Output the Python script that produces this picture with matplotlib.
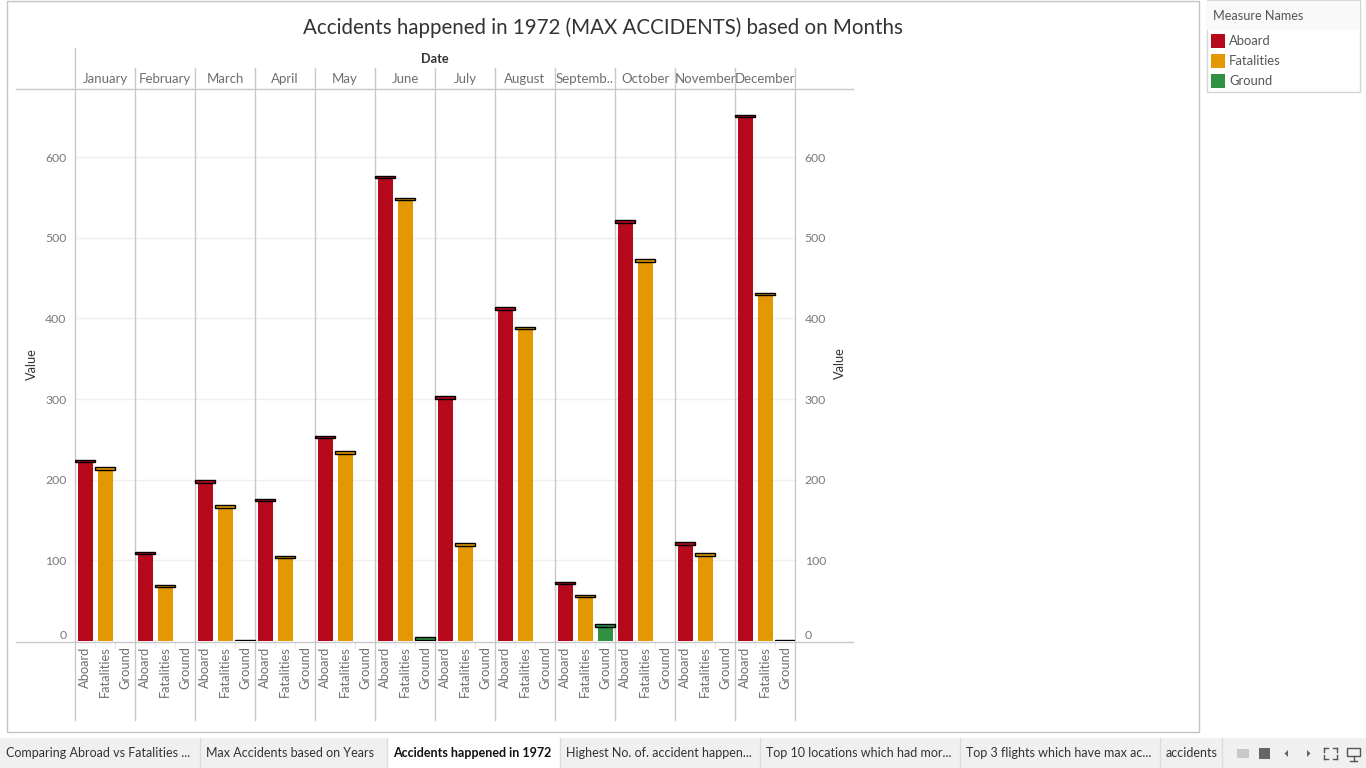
import numpy as np
import matplotlib
matplotlib.use("Agg")
import matplotlib.pyplot as plt
import matplotlib.transforms as mtransforms
from matplotlib.patches import Rectangle, Polygon
from matplotlib.lines import Line2D

# ---------------- data ----------------
months = ["January", "February", "March", "April", "May", "June",
          "July", "August", "September", "October", "November", "December"]
month_headers = ["January", "February", "March", "April", "May", "June",
                 "July", "August", "Septemb..", "October", "November", "December"]
measures = ["Aboard", "Fatalities", "Ground"]
aboard = [223, 109, 198, 175, 253, 575, 302, 412, 72, 520, 121, 651]
fatalities = [214, 68, 167, 104, 234, 548, 120, 388, 56, 472, 107, 430]
ground = [np.nan, np.nan, 0, np.nan, np.nan, 3, np.nan, np.nan, 19, np.nan, np.nan, 0]
y_ticks = [0, 100, 200, 300, 400, 500, 600]
title = "Accidents happened in 1972 (MAX ACCIDENTS) based on Months"
tab_names = ["Comparing Abroad vs Fatalities ...", "Max Accidents based on Years",
             "Accidents happened in 1972", "Highest No. of. accident happen...",
             "Top 10 locations which had mor...", "Top 3 flights which have max ac...",
             "accidents"]

# ---------------- style ----------------
colors = {"Aboard": "#b60a1c", "Fatalities": "#e39802", "Ground": "#309143"}
FONT = ["Lato", "DejaVu Sans"]
plt.rcParams["font.family"] = FONT
GRID = "#c8c8c8"

W, H = 1366, 768
fig = plt.figure(figsize=(W / 100, H / 100), dpi=100)


def fx(x):
    return x / W


def fy(y):
    return 1 - y / H


def fline(x0, y0, x1, y1, color=GRID, lw=1.0):
    fig.add_artist(Line2D([fx(x0), fx(x1)], [fy(y0), fy(y1)],
                          transform=fig.transFigure, color=color, lw=lw))


# outer worksheet frame
fig.add_artist(Rectangle((fx(6.5), fy(731.5)), (1199 - 6.5) / W, (731.5 - 0.5) / H,
                         transform=fig.transFigure, fill=False, edgecolor="#c4c4c4", lw=1))

# plot area geometry
X0, X1, YB, YT = 75, 795, 641, 88
ppu = (641 - 157) / 600.0
ymax = (YB - YT) / ppu
ax = fig.add_axes([fx(X0), fy(YB), (X1 - X0) / W, (YB - YT) / H])
ax.set_xlim(-0.5, 3 * len(months) - 0.5)
ax.set_ylim(0, ymax)
for s in ax.spines.values():
    s.set_visible(False)

series = {"Aboard": aboard, "Fatalities": fatalities, "Ground": ground}
for j, meas in enumerate(measures):
    xs = np.arange(len(months)) * 3 + j
    vals = np.array(series[meas], dtype=float)
    ok = ~np.isnan(vals)
    ax.bar(xs[ok], vals[ok], width=0.75, color=colors[meas], zorder=3, linewidth=0)
    cap_h = 2.6 / ppu
    ax.bar(xs[ok], np.full(ok.sum(), cap_h), bottom=vals[ok] - cap_h / 2, width=1.0,
           color=colors[meas], edgecolor="black", linewidth=1.0, zorder=4)

# gridlines
for t in y_ticks[1:]:
    ax.axhline(t, color="#efefef", lw=1, zorder=0)

# month separators
hpx = YB - YT
for k in range(len(months) + 1):
    top = 48 if k == 0 else 68
    ax.axvline(k * 3 - 0.5, ymin=(YB - 720) / hpx, ymax=(YB - top) / hpx,
               clip_on=False, color=GRID, lw=1, zorder=1)

# horizontal frame lines
fline(16, 88.5, 853, 88.5)
fline(16, 641.5, 853, 641.5)

# x tick labels (measures)
ax.set_xticks(np.arange(3 * len(months)))
ax.set_xticklabels(measures * len(months), rotation=90, color="#6e6e6e", fontsize=9.3)
ax.tick_params(axis="x", length=0, pad=4)
ax.set_xticks([k * 3 + j + 0.5 for k in range(len(months)) for j in range(2)], minor=True)
ax.tick_params(axis="x", which="minor", length=5, color="#ececec", width=1)

# y ticks left
ax.set_yticks(y_ticks)
ax.set_yticklabels([str(t) for t in y_ticks], color="#7a7a7a", fontsize=8.8)
ax.tick_params(axis="y", length=0, pad=6)
ax.get_yticklabels()[0].set_verticalalignment("bottom")

# y ticks right
ax2 = ax.twinx()
ax2.set_ylim(0, ymax)
for s in ax2.spines.values():
    s.set_visible(False)
ax2.set_yticks(y_ticks)
ax2.set_yticklabels([str(t) for t in y_ticks], color="#7a7a7a", fontsize=8.8)
ax2.tick_params(axis="y", length=0, pad=7)
ax2.get_yticklabels()[0].set_verticalalignment("bottom")

# month headers
blend = mtransforms.blended_transform_factory(ax.transData, ax.transAxes)
for i, mh in enumerate(month_headers):
    ax.text(i * 3 + 1, (YB - 79) / hpx, mh, transform=blend, ha="center", va="center",
            fontsize=9.5, color="#6e6e6e", clip_on=False)

fig.text(fx(435), fy(59), "Date", ha="center", va="center", fontsize=9.2,
         fontweight="bold", color="#333333")
fig.text(fx(603), fy(27.5), title, ha="center", va="center", fontsize=14.8, color="#333333")
fig.text(fx(32), fy(364), "Value", ha="center", va="center", rotation=90, fontsize=9.2,
         color="#333333")
fig.text(fx(840), fy(363), "Value", ha="center", va="center", rotation=90, fontsize=9.2,
         color="#333333")

# ---------------- legend ----------------
fig.add_artist(Rectangle((fx(1206.5), fy(91.5)), (1360 - 1206.5) / W, (91.5 - 0.5) / H,
                         transform=fig.transFigure, facecolor="white",
                         edgecolor="#d6d6d6", lw=1))
fig.add_artist(Rectangle((fx(1207), fy(30)), (1359.5 - 1207) / W, 29 / H,
                         transform=fig.transFigure, facecolor="#f9f9f9", edgecolor="none"))
fig.text(fx(1213), fy(16.5), "Measure Names", ha="left", va="center", fontsize=9.1,
         color="#555555")
for k, meas in enumerate(measures):
    yc = 40 + 20 * k
    fig.add_artist(Rectangle((fx(1211), fy(yc + 7.5)), 14 / W, 14 / H,
                             transform=fig.transFigure, facecolor=colors[meas],
                             edgecolor="none"))
    fig.text(fx(1229), fy(yc + 1), meas, ha="left", va="center", fontsize=9.4,
             color="#555555")

# ---------------- tab bar ----------------
fig.add_artist(Rectangle((0, 0), 1, 30 / H, transform=fig.transFigure,
                         facecolor="#f0f0f0", edgecolor="none"))
tab_edges = [0, 200, 387, 560, 760, 960, 1160, 1222]
active = 2
for k, name in enumerate(tab_names):
    xa, xb = tab_edges[k], tab_edges[k + 1]
    if k == active:
        fig.add_artist(Rectangle((fx(xa), 0), (xb - xa) / W, 30 / H,
                                 transform=fig.transFigure, facecolor="white",
                                 edgecolor="none"))
    fig.text(fx(xa + 6), fy(753), name, ha="left", va="center", fontsize=9,
             color="#111111" if k == active else "#333333",
             fontweight="bold" if k == active else "normal")
    if k > 0:
        fline(xa, 738, xa, 768, color="#dcdcdc")
fline(tab_edges[-1], 738, tab_edges[-1], 768, color="#dcdcdc")

# nav icons
fig.add_artist(Rectangle((fx(1237), fy(758)), 12 / W, 9 / H, transform=fig.transFigure,
                         facecolor="#c8c8c8", edgecolor="none"))
fig.add_artist(Rectangle((fx(1259), fy(759)), 11 / W, 11 / H, transform=fig.transFigure,
                         facecolor="#666666", edgecolor="none"))
fig.add_artist(Polygon([(fx(1288), fy(750)), (fx(1288), fy(757)), (fx(1284.5), fy(753.5))],
                       closed=True, transform=fig.transFigure, facecolor="#666666",
                       edgecolor="none"))
fig.add_artist(Polygon([(fx(1307), fy(750)), (fx(1307), fy(757)), (fx(1310.5), fy(753.5))],
                       closed=True, transform=fig.transFigure, facecolor="#666666",
                       edgecolor="none"))
for (a, b, c, d) in [(1324, 748, 1324, 752), (1324, 748, 1328, 748),
                     (1337, 748, 1333, 748), (1337, 748, 1337, 752),
                     (1324, 759, 1324, 755), (1324, 759, 1328, 759),
                     (1337, 759, 1333, 759), (1337, 759, 1337, 755)]:
    fline(a, b, c, d, color="#555555")
fig.add_artist(Rectangle((fx(1347), fy(756)), 13 / W, 8 / H, transform=fig.transFigure,
                         facecolor="none", edgecolor="#555555", lw=1))
fline(1353.5, 756, 1353.5, 761, color="#555555")
fline(1350, 761, 1357, 761, color="#555555")

fig.savefig("out.png", dpi=100, facecolor="white")
